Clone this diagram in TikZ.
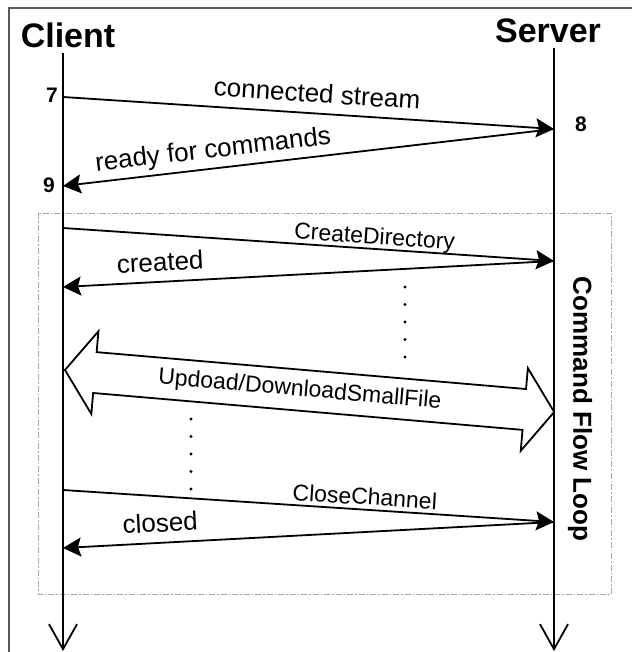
\documentclass[tikz,border=0pt]{standalone}
\usepackage{fontspec}
\setmainfont{Liberation Sans}
\usetikzlibrary{arrows.meta}

\begin{document}
\begin{tikzpicture}[x=1pt,y=-1pt,
    lifeline/.style={line width=1.8pt,-{Straight Barb[length=25pt,width=28pt]}},
    msg/.style={line width=1.8pt,-{Stealth[length=18pt,width=19pt,inset=3pt]}},
    head/.style={font=\fontsize{34}{40}\selectfont\bfseries,anchor=base},
    num/.style={font=\fontsize{21}{25}\selectfont\bfseries,anchor=base},
    biglabel/.style={font=\fontsize{26}{30}\selectfont,above,sloped,text depth=0pt,inner xsep=0pt,inner ysep=10pt},
    smalllabel/.style={font=\fontsize{23}{27}\selectfont,above,sloped,text depth=0pt,inner xsep=0pt,inner ysep=4pt},
    loopbox/.style={line width=1pt,gray!70,dash pattern=on 6pt off 2pt on 1.5pt off 2pt}]
    \useasboundingbox (0,0) rectangle (632,652);

    \draw[line width=1.2pt,black!65] (9,652) -- (9,8) -- (632,8);
    \draw[loopbox] (38,213) rectangle (611,594);

    \node[head] (client) at (68,48) {Client};
    \node[head] (server) at (548,43) {Server};

    \coordinate (ctop) at (63,53);
    \coordinate (cend) at (63,651);
    \coordinate (stop) at (554,48);
    \coordinate (send) at (554,651);
    \draw[lifeline] (ctop) -- (cend);
    \draw[lifeline] (stop) -- (send);

    % handshake
    \coordinate (c7) at (63,97);
    \coordinate (s8) at (554,129);
    \coordinate (c9) at (63,186);
    \node[num] (n7) at (52,103) {7};
    \node[num] (n8) at (581,132) {8};
    \node[num] (n9) at (49,193) {9};
    \draw[msg] (c7) -- node[biglabel,pos=0.515] {connected stream} (s8);
    \draw[msg] (s8) -- node[biglabel,pos=0.69] {ready for commands} (c9);

    % command loop
    \coordinate (cmk) at (63,228);
    \coordinate (smk) at (554,261);
    \coordinate (cok) at (63,287);
    \draw[msg] (cmk) -- node[smalllabel,pos=0.633] {CreateDirectory} (smk);
    \draw[msg] (smk) -- node[biglabel,pos=0.80] {created} (cok);

    \fill (405,287) circle (1.6pt) (405,304.5) circle (1.6pt) (405,322) circle (1.6pt)
          (405,339.5) circle (1.6pt) (405,357) circle (1.6pt);

    \begin{scope}[shift={(65,370)},rotate=-4.91]
        \coordinate (bl) at (0,0);
        \coordinate (br) at (491,0);
        \draw[line width=1.8pt,line join=miter] (bl) -- (30,-41.5) -- (30,-20.5) -- (461,-20.5)
            -- (461,-41.5) -- (br) -- (461,41.5) -- (461,20.5) -- (30,20.5) -- (30,41.5) -- cycle;
    \end{scope}
    \path (bl) -- node[sloped,pos=0.48,font=\fontsize{23}{27}\selectfont] {Updoad/DownloadSmallFile} (br);

    \fill (191,419) circle (1.6pt) (191,436.5) circle (1.6pt) (191,454) circle (1.6pt)
          (191,471.5) circle (1.6pt) (191,489) circle (1.6pt);

    \coordinate (ccl) at (63,490);
    \coordinate (scl) at (554,522);
    \coordinate (cdn) at (63,548);
    \draw[msg] (ccl) -- node[smalllabel,pos=0.613] {CloseChannel} (scl);
    \draw[msg] (scl) -- node[biglabel,pos=0.80] {closed} (cdn);

    \node[font=\fontsize{26}{30}\selectfont\bfseries,rotate=-90] (loop) at (580,409) {Command Flow Loop};
\end{tikzpicture}
\end{document}
